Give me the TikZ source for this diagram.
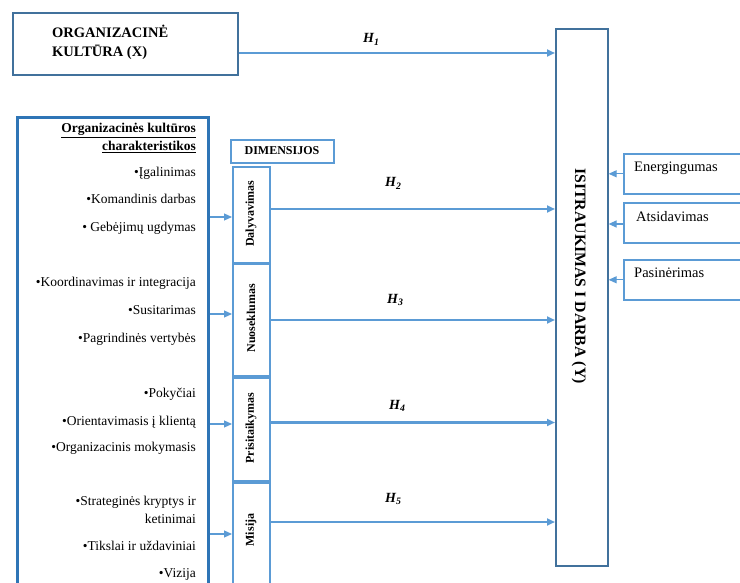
\documentclass[tikz,border=0pt]{standalone}
\usepackage{fontspec}
\setmainfont{Liberation Serif}
\usetikzlibrary{arrows.meta}
\definecolor{linkblue}{HTML}{5B9BD5}
\definecolor{frameblue}{HTML}{41719C}
\definecolor{listblue}{HTML}{2E75B6}
\newcommand\fsz[1]{\fontsize{#1}{#1}\selectfont}
\begin{document}
\begin{tikzpicture}[x=1pt,y=-1pt,
  box/.style={draw, inner sep=0pt, anchor=north west},
  framebox/.style={box, draw=frameblue, line width=1.6pt},
  dimbox/.style={box, draw=linkblue, line width=1.6pt},
  sidebox/.style={box, draw=linkblue, line width=1.6pt},
  listbox/.style={box, draw=listblue, line width=2.6pt},
  item/.style={inner sep=0pt, anchor=base east, font=\fsz{13.5}},
  dimtext/.style={inner sep=0pt, rotate=90, font=\fsz{12}\bfseries},
  sidetext/.style={inner sep=0pt, anchor=base west, font=\fsz{14.5}},
  titletext/.style={inner sep=0pt, anchor=base west, font=\fsz{14.5}\bfseries},
  hyp/.style={inner sep=0pt, anchor=base west, font=\fsz{14}\bfseries\itshape},
  bigarrow/.style={draw=linkblue, line width=2.2pt, -{Triangle[length=8pt,width=7pt]}},
  smallarrow/.style={draw=linkblue, line width=1.2pt, -{Triangle[length=8pt,width=7pt]}}
]
\useasboundingbox (0,0) rectangle (740,583);
\clip (0,0) rectangle (740,583);

% independent variable
\node[framebox, minimum width=225pt, minimum height=62pt] (X) at (12,12) {};
\node[titletext] (Xt1) at (52,38) {ORGANIZACINĖ};
\node[titletext] (Xt2) at (52,57) {KULTŪRA (X)};

% dependent variable
\node[framebox, minimum width=52pt, minimum height=537pt] (Y) at (555,28) {};
\node[inner sep=0pt, rotate=-90, font=\fsz{15.8}\bfseries] (Yt) at (579,276)
  {ISITRAUKIMAS I DARBA (Y)};

% characteristics list
\node[listbox, minimum width=191pt, minimum height=490pt] (L) at (16,116) {};
\node[item, font=\fsz{13.5}\bfseries] (hd1) at (196,133) {\underline{Organizacinės kultūros}};
\node[item, font=\fsz{13.5}\bfseries] (hd2) at (196,151) {\underline{charakteristikos}};
\foreach \t/\y [count=\i] in {
  {•Įgalinimas}/177, {•Komandinis darbas}/204, {• Gebėjimų ugdymas}/232,
  {•Koordinavimas ir integracija}/287, {•Susitarimas}/315, {•Pagrindinės vertybės}/342,
  {•Pokyčiai}/397, {•Orientavimasis į klientą}/425, {•Organizacinis mokymasis}/451,
  {•Strateginės kryptys ir}/505, {ketinimai}/523, {•Tikslai ir uždaviniai}/550,
  {•Vizija}/577}
  \node[item] (li\i) at (196,\y) {\t};

% dimensions
\node[dimbox, minimum width=103pt, minimum height=23pt] (D) at (230,139) {};
\node[inner sep=0pt, font=\fsz{12}\bfseries] (Dt) at (282,151) {DIMENSIJOS};
\node[dimbox, minimum width=37pt, minimum height=96pt] (dal) at (232,166) {};
\node[dimbox, minimum width=37pt, minimum height=112pt] (nuo) at (232,263) {};
\node[dimbox, minimum width=37pt, minimum height=103pt] (pri) at (232,377) {};
\node[dimbox, minimum width=37pt, minimum height=110pt] (mis) at (232,482) {};
\node[dimtext] (dalt) at (251,214) {Dalyvavimas};
\node[dimtext] (nuot) at (251,318) {Nuoseklumas};
\node[dimtext] (prit) at (251,428) {Prisitaikymas};
\node[dimtext] (mist) at (251,530) {Misija};

% engagement components
\node[sidebox, minimum width=130pt, minimum height=40pt] (E1) at (623,153) {};
\node[sidebox, minimum width=130pt, minimum height=40pt] (E2) at (623,202) {};
\node[sidebox, minimum width=130pt, minimum height=40pt] (E3) at (623,259) {};
\node[sidetext] (E1t) at (634,172) {Energingumas};
\node[sidetext] (E2t) at (636,222) {Atsidavimas};
\node[sidetext] (E3t) at (634,278) {Pasinėrimas};

% connector heights
\coordinate (h1) at (0,53);
\coordinate (h2) at (0,209);
\coordinate (h3) at (0,320);
\coordinate (h4) at (0,422.5);
\coordinate (h5) at (0,522);
\coordinate (s1) at (0,217);
\coordinate (s2) at (0,314);
\coordinate (s3) at (0,424);
\coordinate (s4) at (0,534);
\coordinate (r2) at (0,224);

% hypotheses
\draw[bigarrow] (X.east |- h1) -- (Y.west |- h1);
\draw[bigarrow] (dal.east |- h2) -- (Y.west |- h2);
\draw[bigarrow] (nuo.east |- h3) -- (Y.west |- h3);
\draw[bigarrow] (pri.east |- h4) -- (Y.west |- h4);
\draw[bigarrow] (mis.east |- h5) -- (Y.west |- h5);
\node[hyp] (H1) at (363,43) {H\textsubscript{1}};
\node[hyp] (H2) at (385,187) {H\textsubscript{2}};
\node[hyp] (H3) at (387,303) {H\textsubscript{3}};
\node[hyp] (H4) at (389,409) {H\textsubscript{4}};
\node[hyp] (H5) at (385,502) {H\textsubscript{5}};

% characteristics to dimensions
\draw[smallarrow] (L.east |- s1) -- (dal.west |- s1);
\draw[smallarrow] (L.east |- s2) -- (nuo.west |- s2);
\draw[smallarrow] (L.east |- s3) -- (pri.west |- s3);
\draw[smallarrow] (L.east |- s4) -- (mis.west |- s4);

% components to engagement
\draw[smallarrow] (E1.west) -- (Y.east |- E1.west);
\draw[smallarrow] (E2.west |- r2) -- (Y.east |- r2);
\draw[smallarrow] (E3.west) -- (Y.east |- E3.west);
\end{tikzpicture}
\end{document}
